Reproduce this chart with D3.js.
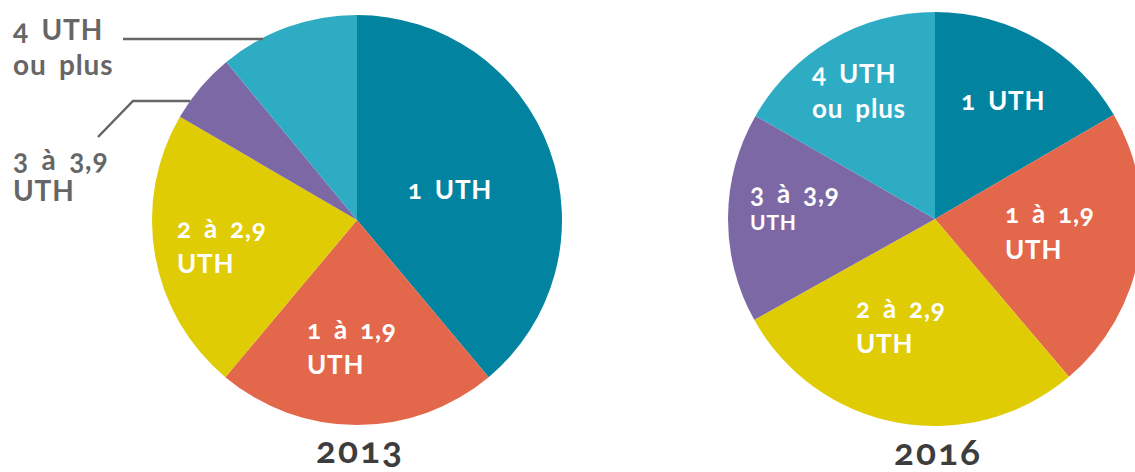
<!DOCTYPE html>
<html>
<head>
    <script src="https://cdnjs.cloudflare.com/ajax/libs/d3/7.8.5/d3.min.js"></script>
    <style>
        body { margin: 0; background: #fff; }
        svg text {
            font-family: Lato, "Open Sans", sans-serif;
            font-weight: bold;
            font-variant-numeric: oldstyle-nums;
            font-feature-settings: "onum" 1;
            letter-spacing: 0.8px;
            word-spacing: 5px;
        }
    </style>
</head>
<body>
    <div id="chart"></div>

    <script>
        const width = 1135;
        const height = 472;

        // Data
        const categories = ["1 UTH", "1 à 1,9 UTH", "2 à 2,9 UTH", "3 à 3,9 UTH", "4 UTH ou plus"];
        const values2013 = [38.9, 22.2, 22.3, 5.6, 11.0];
        const values2016 = [16.6, 22.2, 28.1, 16.4, 16.7];
        const years = ["2013", "2016"];
        const colors = ["#02839f", "#e3674a", "#dfcc04", "#7c68a4", "#2eacc4"];

        // Layout of the labels (relative to pie centre)
        const labels2013 = [
            { lines: ["1 UTH"], dx: 93, dy: [-21], size: [26], anchor: "middle" },
            { lines: ["1 à 1,9", "UTH"], dx: -50, dy: [119, 154], size: [26, 26], anchor: "start" },
            { lines: ["2 à 2,9", "UTH"], dx: -180, dy: [18, 53], size: [26, 26], anchor: "start" },
            null,
            null
        ];
        const labels2016 = [
            { lines: ["1 UTH"], dx: 26, dy: [-109], size: [26], anchor: "start" },
            { lines: ["1 à 1,9", "UTH"], dx: 70, dy: [4, 40], size: [26, 26], anchor: "start" },
            { lines: ["2 à 2,9", "UTH"], dx: -79, dy: [99, 134], size: [26, 26], anchor: "start" },
            { lines: ["3 à 3,9", "UTH"], dx: -185, dy: [-16, 11], size: [26, 21], anchor: "start" },
            { lines: ["4 UTH", "ou plus"], dx: -123, dy: [-136, -101], size: [26, 26], anchor: "start" }
        ];

        const pies = [
            { values: values2013, labels: labels2013, cx: 357, cy: 220, r: 205, year: years[0], yearY: 463 },
            { values: values2016, labels: labels2016, cx: 935, cy: 219, r: 207, year: years[1], yearY: 465 }
        ];

        const svg = d3.select("#chart")
            .append("svg")
            .attr("width", width)
            .attr("height", height);

        const pie = d3.pie().sort(null).value(d => d);

        pies.forEach(p => {
            const g = svg.append("g")
                .attr("transform", `translate(${p.cx}, ${p.cy})`);

            const arc = d3.arc().innerRadius(0).outerRadius(p.r);

            g.selectAll("path")
                .data(pie(p.values))
                .enter()
                .append("path")
                .attr("d", arc)
                .attr("fill", (d, i) => colors[i]);

            p.labels.forEach(lab => {
                if (!lab) return;
                lab.lines.forEach((line, j) => {
                    g.append("text")
                        .attr("x", lab.dx)
                        .attr("y", lab.dy[j])
                        .attr("text-anchor", lab.anchor)
                        .attr("fill", "#fff")
                        .attr("font-size", lab.size[j] + "px")
                        .text(line);
                });
            });

            // year under the pie
            svg.append("text")
                .attr("x", p.cx + 3)
                .attr("y", p.yearY)
                .attr("text-anchor", "middle")
                .attr("fill", "#3d3d3d")
                .attr("font-size", "37px")
                .style("letter-spacing", "2px")
                .text(p.year);
        });

        // Outside labels for the small slices of 2013
        const outside = [
            { lines: ["4 UTH", "ou plus"], x: 13, y: [40, 75] },
            { lines: ["3 à 3,9", "UTH"], x: 13, y: [170, 201] }
        ];
        outside.forEach(o => {
            o.lines.forEach((line, j) => {
                svg.append("text")
                    .attr("x", o.x)
                    .attr("y", o.y[j])
                    .attr("fill", "#666")
                    .attr("font-size", "28px")
                    .text(line);
            });
        });

        // Leader lines
        const line = d3.line();
        svg.append("path")
            .attr("d", line([[123, 39], [263, 39]]))
            .attr("fill", "none")
            .attr("stroke", "#666")
            .attr("stroke-width", 2.5);
        svg.append("path")
            .attr("d", line([[98, 137], [133, 101], [190, 101]]))
            .attr("fill", "none")
            .attr("stroke", "#666")
            .attr("stroke-width", 2.5);
    </script>
</body>
</html>
